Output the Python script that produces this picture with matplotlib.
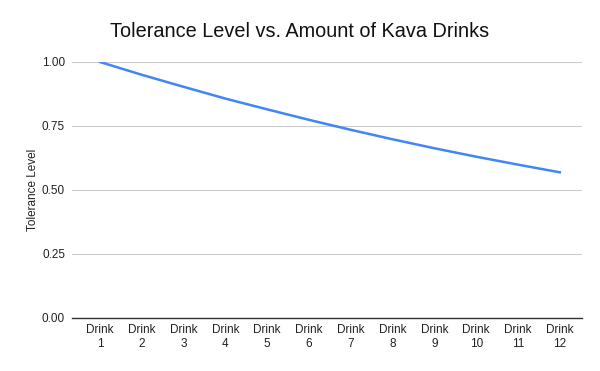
import matplotlib
matplotlib.use("Agg")
import matplotlib.pyplot as plt

# tolerance level after each kava drink
drinks = ['Drink\n1', 'Drink\n2', 'Drink\n3', 'Drink\n4', 'Drink\n5', 'Drink\n6',
          'Drink\n7', 'Drink\n8', 'Drink\n9', 'Drink\n10', 'Drink\n11', 'Drink\n12']
tolerance = [1.000, 0.950, 0.903, 0.857, 0.815, 0.774, 0.735, 0.698, 0.663, 0.630, 0.599, 0.569]
yticks = [0, 0.25, 0.5, 0.75, 1.0]

plt.rcParams['font.family'] = ['Liberation Sans', 'DejaVu Sans']

fig = plt.figure(figsize=(6, 3.71), dpi=100)
ax = fig.add_axes([0.12, 0.1429, 0.85, 0.69])

x = list(range(1, len(drinks) + 1))
ax.plot(x, tolerance, color='#4285F4', linewidth=1.8)

ax.set_xlim(0.33, 12.53)
ax.set_ylim(0, 1)
ax.set_xticks(x)
ax.set_xticklabels(drinks, fontsize=8.5, color='#222222', linespacing=1.3)
ax.set_yticks(yticks)
ax.set_yticklabels(['%.2f' % v for v in yticks], fontsize=8.5, color='#222222')
ax.tick_params(length=0, pad=5)
ax.tick_params(axis='x', pad=4)

ax.grid(axis='y', color='#cccccc', linewidth=0.8)
ax.set_axisbelow(True)
for s in ['top', 'right', 'left']:
    ax.spines[s].set_visible(False)
ax.spines['bottom'].set_color('#333333')
ax.spines['bottom'].set_linewidth(1)

ax.set_ylabel('Tolerance Level', fontsize=8.5, color='#222222', labelpad=2)
fig.suptitle('Tolerance Level vs. Amount of Kava Drinks', fontsize=14.3, y=0.94, x=0.5,
             color='#111111')

fig.savefig('out.png', dpi=100)
